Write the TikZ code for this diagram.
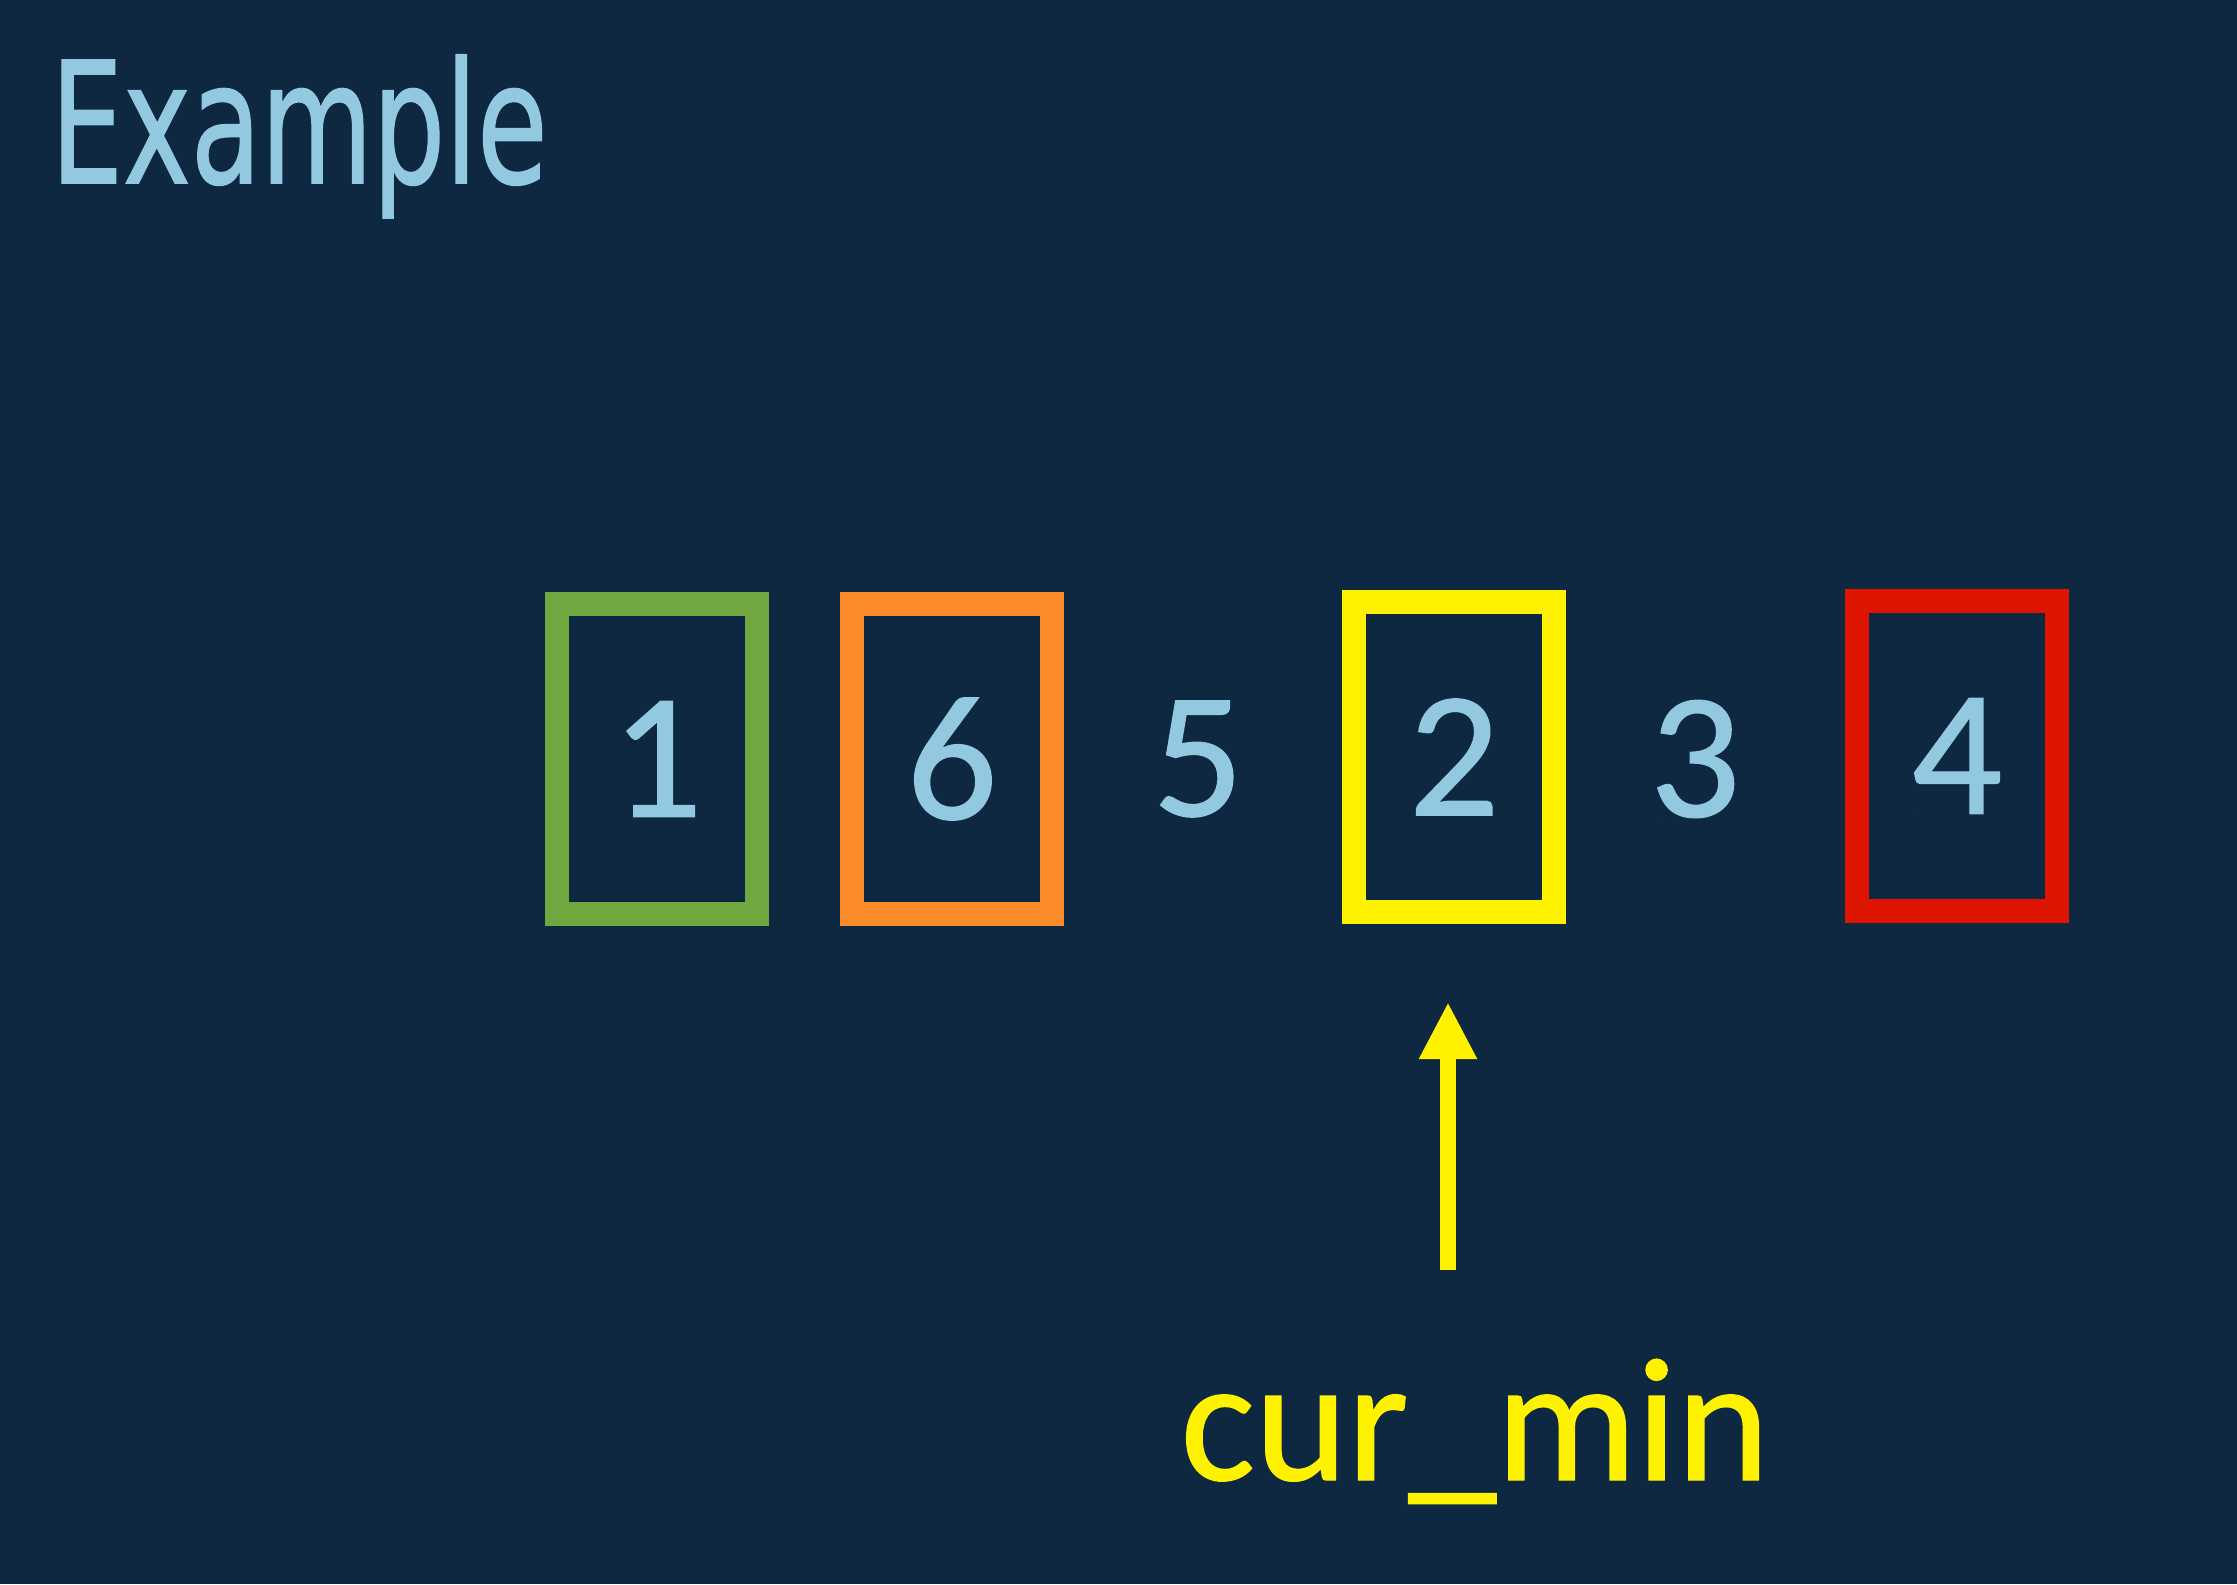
\documentclass[tikz,border=0pt]{standalone}
\usepackage{fontspec}
\setmainfont{Carlito}[FakeBold=0.8]
\newfontfamily\titlefont{DejaVu Sans Condensed}[FakeBold=1.0]
\usepackage{tikz}
\usetikzlibrary{positioning, arrows.meta}

\definecolor{bgnavy}{HTML}{0E2841}
\definecolor{numblue}{HTML}{93C9E0}
\definecolor{boxgreen}{HTML}{70A83F}
\definecolor{boxorange}{HTML}{FB8A2A}
\definecolor{boxyellow}{HTML}{FFF200}
\definecolor{boxred}{HTML}{DC1400}

\tikzset{
    cell/.style={text=numblue, font=\fontsize{51}{60}\selectfont, inner sep=0pt},
    framed/.style={cell, draw=#1, line width=0.24cm, minimum width=2cm, minimum height=3.1cm}
}

\begin{document}
\begin{tikzpicture}
            \fill[bgnavy] (0, 0) rectangle (22.37, -15.84);
            \useasboundingbox (0, 0) rectangle (22.37, -15.84);

            \node[anchor=base west, text=numblue, inner sep=0pt, font=\titlefont\fontsize{48}{58}\selectfont] (title) at (0.50, -1.83) {\scalebox{0.755}[1]{Example}};

            \node[framed=boxgreen] (n1) at (6.57, -7.59) {1};
            \node[framed=boxorange] (n6) at (9.52, -7.59) {6};
            \node[cell] (n5) at (11.98, -7.59) {5};
            \node[framed=boxyellow] (n2) at (14.54, -7.57) {2};
            \node[cell] (n3) at (16.95, -7.59) {3};
            \node[framed=boxred] (n4) at (19.57, -7.56) {4};

            \node[anchor=base west, text=boxyellow, inner sep=0pt, font=\fontsize{50}{60}\selectfont] (curmin) at (11.80, -14.80) {cur\_min};

            \coordinate (tail) at (14.48, -12.70);
            \draw [boxyellow, line width=0.16cm, -{Triangle[width=0.54cm, length=0.57cm]}, shorten >=0.78cm] (tail) -- (tail |- n2.south);
        \end{tikzpicture}
\end{document}
